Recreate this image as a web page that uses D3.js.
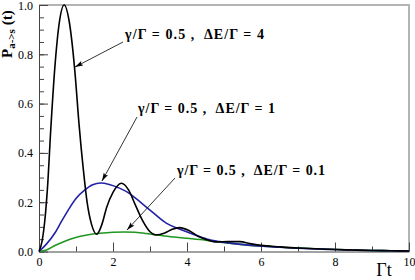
<!DOCTYPE html>
<html>
<head>
<meta charset="utf-8">
<script src="https://cdn.jsdelivr.net/npm/d3@7"></script>
<style>
  body { margin: 0; background: #fff; }
  text { font-family: "Liberation Serif", "Times New Roman", serif; }
</style>
</head>
<body>
<div id="graph"></div>
<script>
// values (Gamma t, P)
var tBlack = [0, 0.08, 0.16, 0.23, 0.32, 0.43, 0.55, 0.68, 0.82, 0.97, 1.08, 1.2, 1.3, 1.42, 1.56, 1.7, 1.83, 2.0, 2.23, 2.42, 2.6, 2.8, 3.0, 3.16, 3.4, 3.6, 3.8, 4.05, 4.3, 4.5, 4.8, 5.1, 5.43, 5.7, 6.0, 6.5, 7, 7.5, 8, 8.5, 9, 9.5, 10]
var pBlack = [0, 0.04, 0.13, 0.26, 0.50, 0.75, 0.93, 1.0, 0.93, 0.73, 0.52, 0.33, 0.2, 0.11, 0.07, 0.11, 0.18, 0.24, 0.277, 0.25, 0.19, 0.125, 0.08, 0.067, 0.075, 0.09, 0.097, 0.085, 0.062, 0.05, 0.039, 0.04, 0.04, 0.032, 0.025, 0.019, 0.014, 0.011, 0.008, 0.006, 0.004, 0.003, 0.002]

var tBlue = [0, 0.2, 0.43, 0.6, 0.79, 1.0, 1.24, 1.45, 1.67, 1.9, 2.19, 2.46, 2.7, 3.0, 3.45, 3.81, 4.2, 4.53, 4.89, 5.4, 5.97, 6.5, 7, 7.5, 8, 8.5, 9, 9.5, 10]
var pBlue = [0, 0.03, 0.075, 0.12, 0.168, 0.215, 0.25, 0.271, 0.278, 0.272, 0.256, 0.234, 0.205, 0.168, 0.114, 0.09, 0.068, 0.051, 0.04, 0.03, 0.022, 0.017, 0.013, 0.01, 0.008, 0.006, 0.004, 0.003, 0.002]

var tGreen = [0, 0.2, 0.43, 0.7, 0.97, 1.3, 1.65, 2.0, 2.3, 2.6, 3.0, 3.4, 3.9, 4.5, 4.9, 5.5, 6.06, 7, 7.86, 8.5, 9, 9.5, 10]
var pGreen = [0, 0.006, 0.024, 0.042, 0.056, 0.067, 0.074, 0.078, 0.079, 0.078, 0.071, 0.063, 0.055, 0.046, 0.038, 0.028, 0.021, 0.014, 0.009, 0.006, 0.004, 0.003, 0.002]

var labels = ["\u03b3/\u0393 = 0.5 ,  \u0394E/\u0393 = 4", "\u03b3/\u0393 = 0.5 ,  \u0394E/\u0393 = 1", "\u03b3/\u0393 = 0.5 ,  \u0394E/\u0393 = 0.1"]
var xTicks = [0, 2, 4, 6, 8, 10]
var yTicks = [0.0, 0.2, 0.4, 0.6, 0.8, 1.0]

var w = 415, h = 280

var x = d3.scaleLinear().domain([0, 10]).range([39, 409])
var y = d3.scaleLinear().domain([0, 1]).range([251.5, 5])

var svg = d3.select('#graph')
  .append('svg')
  .attr('width', w)
  .attr('height', h)

svg.append('defs').append('marker')
  .attr('id', 'head')
  .attr('viewBox', '0 0 10 6')
  .attr('refX', 10).attr('refY', 3)
  .attr('markerWidth', 9).attr('markerHeight', 5)
  .attr('markerUnits', 'userSpaceOnUse')
  .attr('orient', 'auto')
  .append('path')
  .attr('d', 'M0,0 L10,3 L0,6 L2,3 z')
  .attr('fill', '#000')

// frame: top and right in grey
svg.append('path')
  .attr('d', 'M' + x(0) + ',' + y(1) + 'H' + x(10) + 'V' + y(0))
  .attr('fill', 'none')
  .attr('stroke', '#b4b4b4')
  .attr('stroke-width', 2)

// minor ticks
svg.append('g')
  .attr('transform', 'translate(' + x(0) + ',0)')
  .call(d3.axisLeft(y).tickValues(d3.range(0, 1.001, 0.05)).tickSize(-5).tickSizeOuter(0).tickFormat(''))
  .call(g => g.select('.domain').remove())
  .selectAll('line').attr('stroke', '#444')
svg.append('g')
  .attr('transform', 'translate(0,' + y(0) + ')')
  .call(d3.axisBottom(x).tickValues(d3.range(1, 10, 2)).tickSize(-5).tickSizeOuter(0).tickFormat(''))
  .call(g => g.select('.domain').remove())
  .selectAll('line').attr('stroke', '#444')

// major
var yAxis = svg.append('g')
  .attr('transform', 'translate(' + x(0) + ',0)')
  .call(d3.axisLeft(y).tickValues(yTicks).tickSize(-9).tickSizeOuter(0).tickPadding(6).tickFormat(d3.format('.1f')))
var xAxis = svg.append('g')
  .attr('transform', 'translate(0,' + y(0) + ')')
  .call(d3.axisBottom(x).tickValues(xTicks).tickSize(-9).tickSizeOuter(0).tickPadding(6).tickFormat(d3.format('d')))

;[yAxis, xAxis].forEach(a => {
  a.selectAll('text').attr('font-family', '"Liberation Serif", serif').attr('font-size', 12).attr('fill', '#000')
  a.selectAll('line').attr('stroke', '#444')
  a.select('.domain').attr('stroke', '#444')
})
// top label sits just inside the picture, as in the original
yAxis.selectAll('.tick text').filter(d => d === 1).attr('dy', '0.4em')

var line = d3.line()
  .x(d => x(d[0]))
  .y(d => y(d[1]))
  .curve(d3.curveMonotoneX)

var series = [
  {t: tGreen, p: pGreen, color: '#1f961f'},
  {t: tBlue, p: pBlue, color: '#2222a8'},
  {t: tBlack, p: pBlack, color: '#000'}
]

svg.append('g').selectAll('path')
  .data(series)
  .enter()
  .append('path')
  .attr('d', s => line(d3.zip(s.t, s.p)))
  .attr('fill', 'none')
  .attr('stroke', s => s.color)
  .attr('stroke-width', 1.6)

// annotations
var notes = [
  {text: labels[0], tx: 125, ty: 39, len: 139, from: [123, 42], to: [75, 67]},
  {text: labels[1], tx: 138, ty: 113, len: 137, from: [137, 117], to: [102, 181]},
  {text: labels[2], tx: 177, ty: 174.5, len: 148, from: [175, 178], to: [127, 230]}
]

svg.append('g').selectAll('line')
  .data(notes)
  .enter()
  .append('line')
  .attr('x1', d => d.from[0]).attr('y1', d => d.from[1])
  .attr('x2', d => d.to[0]).attr('y2', d => d.to[1])
  .attr('stroke', '#000')
  .attr('stroke-width', 0.8)
  .attr('marker-end', 'url(#head)')

svg.append('g').selectAll('text')
  .data(notes)
  .enter()
  .append('text')
  .attr('x', d => d.tx)
  .attr('y', d => d.ty)
  .attr('font-size', 14)
  .attr('font-weight', 'bold')
  .attr('textLength', d => d.len)
  .attr('lengthAdjust', 'spacing')
  .style('white-space', 'pre')
  .text(d => d.text)

// axis titles
var yt = svg.append('text')
  .attr('transform', 'translate(12,58) rotate(-90)')
  .attr('font-size', 15)
  .attr('font-weight', 'bold')
yt.append('tspan').text('P')
yt.append('tspan').attr('font-size', 11).attr('dy', 3).text('a->s')
yt.append('tspan').attr('dy', -3).style('white-space', 'pre').text(' (t)')

svg.append('text')
  .attr('x', 384)
  .attr('y', 276)
  .attr('text-anchor', 'middle')
  .attr('font-size', 18)
  .text('\u0393t')
</script>
</body>
</html>
